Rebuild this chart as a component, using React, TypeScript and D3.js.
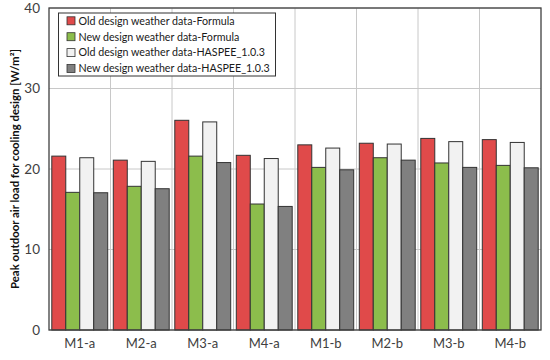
import React from "react";
import * as d3 from "d3";

const categories = ["M1-a", "M2-a", "M3-a", "M4-a", "M1-b", "M2-b", "M3-b", "M4-b"];
const seriesNames = [
  "Old design weather data-Formula",
  "New design weather data-Formula",
  "Old design weather data-HASPEE_1.0.3",
  "New design weather data-HASPEE_1.0.3",
];
const oldFormula = [21.6, 21.1, 26.05, 21.7, 23.0, 23.2, 23.8, 23.65];
const newFormula = [17.1, 17.85, 21.6, 15.65, 20.2, 21.4, 20.75, 20.45];
const oldHaspee = [21.4, 20.95, 25.85, 21.3, 22.6, 23.1, 23.4, 23.3];
const newHaspee = [17.05, 17.55, 20.8, 15.35, 19.9, 21.1, 20.2, 20.15];
const yTicks = [0, 10, 20, 30, 40];
const colors = ["#e04a4a", "#8cbd4c", "#f2f2f2", "#808080"];

export default function App() {
  const W = 550, H = 360;
  const left = 49, right = 541, top = 8, bottom = 330;
  const series = [oldFormula, newFormula, oldHaspee, newHaspee];
  const x = d3.scaleBand<string>().domain(categories).range([left, right]).paddingInner(0).paddingOuter(0);
  const inner = d3.scaleBand<number>().domain([0, 1, 2, 3]).range([0, x.bandwidth()]).paddingOuter(0.2);
  const y = d3.scaleLinear().domain([0, 40]).range([bottom, top]);
  const font = "Lato, Open Sans, sans-serif";
  return (
    <svg width={W} height={H} style={{ position: "absolute", left: 0, top: 0 }}>
      <rect x={0} y={0} width={W} height={H} fill="#fff" />
      {yTicks.map((t) => (
        <line key={"hg" + t} x1={left} x2={right} y1={y(t)} y2={y(t)} stroke="#c8c8c8" strokeWidth={1} />
      ))}
      {categories.slice(1).map((c) => (
        <line key={"vg" + c} x1={x(c)!} x2={x(c)!} y1={top} y2={bottom} stroke="#c8c8c8" strokeWidth={1} />
      ))}
      {categories.map((c, i) => (
        <g key={c}>
          {series.map((s, k) => (
            <rect
              key={k}
              x={x(c)! + inner(k)!}
              y={y(s[i])}
              width={inner.bandwidth()}
              height={bottom - y(s[i])}
              fill={colors[k]}
              stroke="#333"
              strokeWidth={1}
            />
          ))}
          <text x={x(c)! + x.bandwidth() / 2} y={348} textAnchor="middle" fontFamily={font} fontSize={13} fill="#404040">
            {c}
          </text>
        </g>
      ))}
      <rect x={left} y={top} width={right - left} height={bottom - top} fill="none" stroke="#404040" strokeWidth={1.3} />
      {yTicks.map((t) => (
        <text key={"yt" + t} x={40} y={y(t) + 4.5} textAnchor="end" fontFamily={font} fontSize={13.5} fill="#404040">
          {t}
        </text>
      ))}
      <text
        transform={`translate(18.5,${(top + bottom) / 2}) rotate(-90)`}
        textAnchor="middle"
        fontFamily={font}
        fontSize={11.4}
        fontWeight="bold"
        fill="#111"
      >
        Peak outdoor air load for cooling design [W/m²]
      </text>
      <g>
        <rect x={58.5} y={13} width={217} height={63} fill="#fff" stroke="#333" strokeWidth={1} />
        {seriesNames.map((n, k) => (
          <g key={n}>
            <rect x={67} y={16.8 + k * 15.9} width={8} height={8} fill={colors[k]} stroke="#333" strokeWidth={0.8} />
            <text x={78.5} y={24.6 + k * 15.9} fontFamily={font} fontSize={10.7} fill="#1a1a1a">
              {n}
            </text>
          </g>
        ))}
      </g>
    </svg>
  );
}
